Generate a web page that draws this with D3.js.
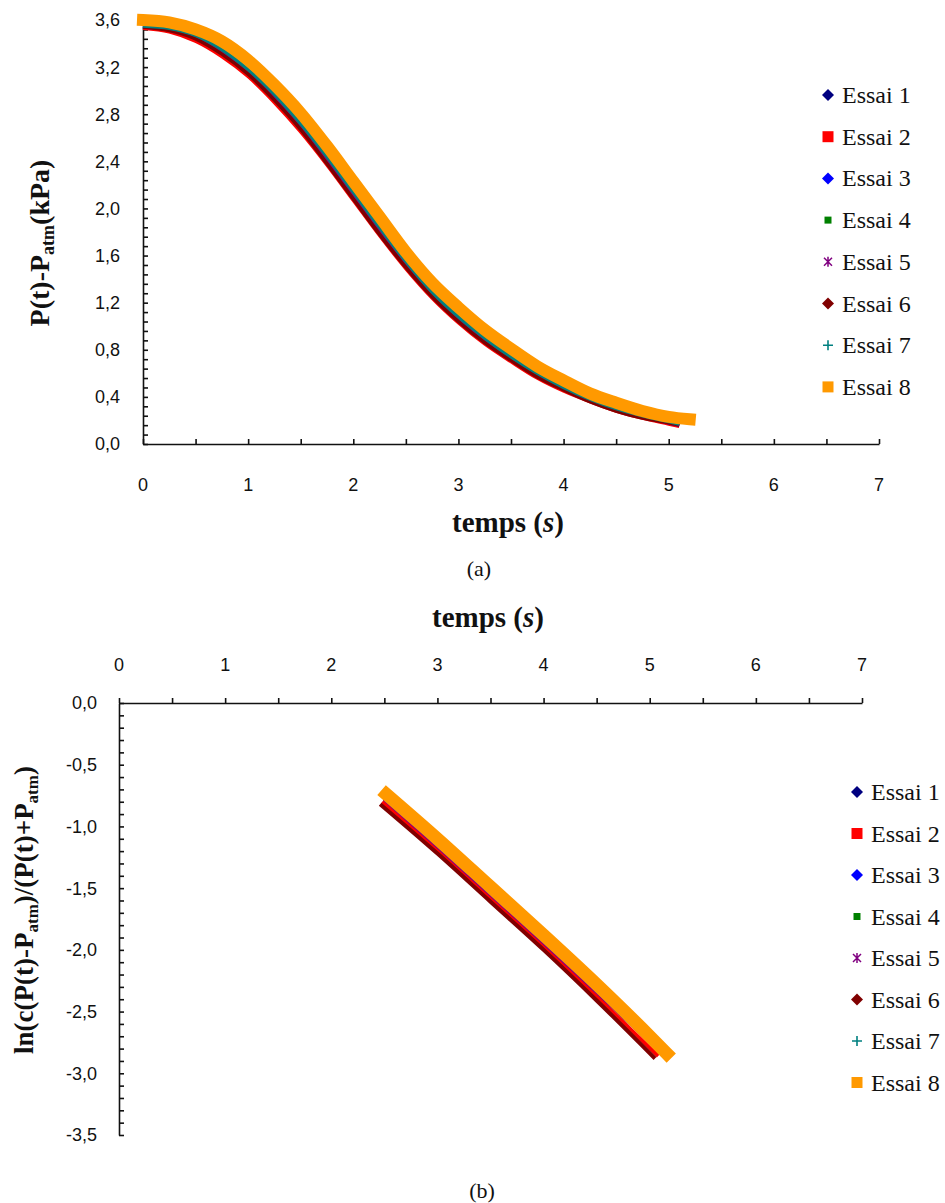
<!DOCTYPE html>
<html><head><meta charset="utf-8">
<script src="https://cdn.jsdelivr.net/npm/d3@7"></script>
<style>body{margin:0;background:#fff}</style>
</head><body><div id="c"></div>
<script>
// ---------------- DATA ----------------
const seriesNames = ["Essai 1","Essai 2","Essai 3","Essai 4","Essai 5","Essai 6","Essai 7","Essai 8"];
const seriesColors = ["#000080","#FF0000","#0000FF","#008000","#800080","#800000","#008080","#FF9900"];
const seriesMarkers = ["diamond","square","diamond","smallsquare","asterisk","diamond","plus","square"];

// (a) pressure vs time
const tTop = [0,0.25,0.5,0.75,1.0,1.25,1.5,1.75,2.0,2.25,2.5,2.75,3.0,3.25,3.5,3.75,4.0,4.25,4.5,4.75,5.0,5.1];
const tTop8 = [0,0.25,0.5,0.75,1.0,1.25,1.5,1.75,2.0,2.25,2.5,2.75,3.0,3.25,3.5,3.75,4.0,4.25,4.5,4.75,5.0,5.2];
const pEssai1 = [3.54,3.51,3.44,3.32,3.15,2.93,2.68,2.40,2.10,1.80,1.51,1.26,1.05,0.87,0.71,0.58,0.46,0.37,0.29,0.23,0.18,0.16];
const pEssai2 = [3.53,3.50,3.42,3.29,3.12,2.90,2.65,2.37,2.07,1.77,1.49,1.24,1.03,0.85,0.70,0.56,0.45,0.36,0.28,0.22,0.17,0.15];
const pEssai3 = [3.54,3.52,3.45,3.33,3.16,2.94,2.69,2.41,2.11,1.81,1.52,1.27,1.06,0.88,0.72,0.58,0.47,0.37,0.29,0.23,0.18,0.16];
const pEssai4 = [3.55,3.53,3.46,3.34,3.17,2.95,2.70,2.42,2.12,1.82,1.53,1.28,1.07,0.89,0.73,0.59,0.48,0.38,0.30,0.24,0.19,0.17];
const pEssai5 = [3.55,3.52,3.45,3.32,3.15,2.94,2.68,2.40,2.11,1.81,1.52,1.27,1.06,0.87,0.72,0.59,0.47,0.37,0.29,0.23,0.18,0.16];
const pEssai6 = [3.54,3.51,3.44,3.31,3.14,2.92,2.67,2.38,2.08,1.78,1.50,1.25,1.04,0.86,0.71,0.57,0.46,0.36,0.28,0.22,0.18,0.16];
const pEssai7 = [3.55,3.53,3.47,3.35,3.18,2.97,2.72,2.44,2.14,1.84,1.55,1.29,1.08,0.90,0.74,0.60,0.48,0.38,0.30,0.24,0.19,0.17];
const pEssai8 = [3.60,3.58,3.52,3.42,3.26,3.05,2.81,2.53,2.23,1.93,1.63,1.37,1.16,0.97,0.81,0.66,0.54,0.43,0.35,0.28,0.23,0.21];

// (b) log-transform vs time
const tBot = [2.5,3.0,3.5,4.0,4.5,5.1];
const tBot2 = [2.48,3.0,3.5,4.0,4.5,5.08];
const tBot6 = [2.46,3.0,3.5,4.0,4.5,5.05];
const tBot8 = [2.52,3.0,3.5,4.0,4.5,5.0,5.16];
const lEssai1 = [-0.78,-1.16,-1.55,-1.94,-2.34,-2.82];
const lEssai2 = [-0.80,-1.19,-1.58,-1.97,-2.38,-2.86];
const lEssai3 = [-0.77,-1.15,-1.54,-1.93,-2.33,-2.81];
const lEssai4 = [-0.76,-1.13,-1.51,-1.88,-2.27,-2.80];
const lEssai5 = [-0.78,-1.16,-1.55,-1.94,-2.34,-2.82];
const lEssai6 = [-0.82,-1.22,-1.61,-2.00,-2.41,-2.88];
const lEssai7 = [-0.76,-1.13,-1.51,-1.89,-2.28,-2.80];
const lEssai8 = [-0.74,-1.10,-1.49,-1.88,-2.28,-2.70,-2.84];

// axis ticks
const xTickLabels = [0,1,2,3,4,5,6,7];
const yTopTickLabels = [0,0.4,0.8,1.2,1.6,2.0,2.4,2.8,3.2,3.6];
const yBotTickLabels = [0,-0.5,-1.0,-1.5,-2.0,-2.5,-3.0,-3.5];

// ---------------- DRAW ----------------
const W = 945, H = 1203;
const serifFont = "'Liberation Serif', 'Times New Roman', serif";
const sansFont = "'Liberation Sans', Arial, sans-serif";
const svg = d3.select("#c").append("svg").attr("width", W).attr("height", H)
  .attr("font-family", serifFont);
svg.append("rect").attr("width", W).attr("height", H).attr("fill", "#fff");

const fmt = v => d3.format(".1f")(v).replace(".", ",").replace("−", "-");

function markerPath(type) {
  switch (type) {
    case "diamond": return "M0,-6L6,0L0,6L-6,0Z";
    case "square": return "M-5.5,-5.5H5.5V5.5H-5.5Z";
    case "smallsquare": return "M-3.5,-3.5H3.5V3.5H-3.5Z";
  }
  return null;
}
function drawMarker(g, type, color) {
  if (type === "asterisk") {
    g.append("path").attr("d", "M-4,-4L4,4M-4,4L4,-4M0,-5V5")
      .attr("stroke", color).attr("stroke-width", 1.5).attr("fill", "none");
  } else if (type === "plus") {
    g.append("path").attr("d", "M-5,0H5M0,-5V5")
      .attr("stroke", color).attr("stroke-width", 1.6).attr("fill", "none");
  } else {
    g.append("path").attr("d", markerPath(type)).attr("fill", color);
  }
}

function legend(x0, y0, dy) {
  const g = svg.append("g");
  seriesNames.forEach((name, i) => {
    const y = y0 + i * dy;
    const m = g.append("g").attr("transform", `translate(${x0},${y})`);
    drawMarker(m, seriesMarkers[i], seriesColors[i]);
    g.append("text").attr("x", x0 + 14).attr("y", y + 8)
      .attr("font-family", serifFont)
      .attr("font-size", 24).attr("fill", "#111").text(name);
  });
}

// ===== Chart (a) =====
const xTop = d3.scaleLinear().domain([0, 7]).range([143, 879]);
const yTop = d3.scaleLinear().domain([0, 3.6]).range([444, 20]);

svg.append("g").attr("transform", `translate(0,${yTop(0)})`)
  .call(d3.axisTop(xTop).tickValues(d3.range(0, 7.001, 0.5)).tickSize(5).tickSizeOuter(0).tickFormat(""))
  .call(g => g.selectAll("path,line").attr("stroke", "#111").attr("stroke-width", 1.6));
svg.append("g").attr("transform", `translate(${xTop(0)},0)`)
  .call(d3.axisRight(yTop).tickValues(d3.range(0, 3.6001, 0.08)).tickSize(5).tickSizeOuter(0).tickFormat(""))
  .call(g => g.selectAll("path,line").attr("stroke", "#111").attr("stroke-width", 1.6));

svg.append("g").selectAll("text").data(xTickLabels).join("text")
  .attr("x", d => xTop(d)).attr("y", 485).attr("dy", "0.36em")
  .attr("text-anchor", "middle").attr("font-family", sansFont).attr("font-size", 18).attr("fill", "#111")
  .text(d => d);
svg.append("g").selectAll("text").data(yTopTickLabels).join("text")
  .attr("x", 120).attr("y", d => yTop(d)).attr("dy", "0.36em")
  .attr("text-anchor", "end").attr("font-family", sansFont).attr("font-size", 18).attr("fill", "#111")
  .text(d => fmt(d));

const lineTop = d3.line().x(d => xTop(d[0])).y(d => yTop(d[1])).curve(d3.curveMonotoneX);
const topSeries = [pEssai1, pEssai2, pEssai3, pEssai4, pEssai5, pEssai6, pEssai7, pEssai8];
topSeries.forEach((vals, i) => {
  const ts = i === 7 ? tTop8 : tTop;
  svg.append("path").datum(ts.map((t, k) => [t, vals[k]]))
    .attr("d", lineTop).attr("fill", "none").attr("stroke", seriesColors[i])
    .attr("stroke-width", i === 7 ? 12 : 3.5).attr("stroke-linecap", i === 7 ? "square" : "butt")
    .attr("stroke-linejoin", "round");
});

// titles (a)
const tx1 = svg.append("text").attr("x", 508).attr("y", 532).attr("text-anchor", "middle")
  .attr("font-size", 29).attr("font-weight", "bold").attr("fill", "#111");
tx1.append("tspan").text("temps (");
tx1.append("tspan").attr("font-style", "italic").text("s");
tx1.append("tspan").text(")");

const ty1 = svg.append("text").attr("transform", "translate(49,243) rotate(-90)").attr("text-anchor", "middle")
  .attr("font-size", 28).attr("font-weight", "bold").attr("fill", "#111");
ty1.append("tspan").text("P(t)-P");
ty1.append("tspan").attr("font-size", 18).attr("dy", 5).text("atm");
ty1.append("tspan").attr("dy", -5).text("(kPa)");

svg.append("text").attr("x", 479).attr("y", 576).attr("text-anchor", "middle")
  .attr("font-size", 22).attr("fill", "#111").text("(a)");

legend(828, 95, 41.7);

// ===== Chart (b) =====
const xBot = d3.scaleLinear().domain([0, 7]).range([119, 862]);
const yBot = d3.scaleLinear().domain([-3.5, 0]).range([1135, 703]);

svg.append("g").attr("transform", `translate(0,${yBot(0)})`)
  .call(d3.axisTop(xBot).tickValues(d3.range(0, 7.001, 0.5)).tickSize(5).tickSizeOuter(0).tickFormat(""))
  .call(g => g.selectAll("path,line").attr("stroke", "#111").attr("stroke-width", 1.6));
svg.append("g").attr("transform", `translate(${xBot(0)},0)`)
  .call(d3.axisRight(yBot).tickValues(d3.range(0, 35.5, 1).map(v => -v / 10)).tickSize(5).tickSizeOuter(0).tickFormat(""))
  .call(g => g.selectAll("path,line").attr("stroke", "#111").attr("stroke-width", 1.6));

svg.append("g").selectAll("text").data(xTickLabels).join("text")
  .attr("x", d => xBot(d)).attr("y", 665).attr("dy", "0.36em")
  .attr("text-anchor", "middle").attr("font-family", sansFont).attr("font-size", 18).attr("fill", "#111")
  .text(d => d);
svg.append("g").selectAll("text").data(yBotTickLabels).join("text")
  .attr("x", 97).attr("y", d => yBot(d)).attr("dy", "0.36em")
  .attr("text-anchor", "end").attr("font-family", sansFont).attr("font-size", 18).attr("fill", "#111")
  .text(d => fmt(d));

const lineBot = d3.line().x(d => xBot(d[0])).y(d => yBot(d[1])).curve(d3.curveMonotoneX);
const botSeries = [lEssai1, lEssai2, lEssai3, lEssai4, lEssai5, lEssai6, lEssai7, lEssai8];
const botTimes = [tBot, tBot2, tBot, tBot, tBot, tBot6, tBot, tBot8];
botSeries.forEach((vals, i) => {
  const ts = botTimes[i];
  svg.append("path").datum(ts.map((t, k) => [t, vals[k]]))
    .attr("d", lineBot).attr("fill", "none").attr("stroke", seriesColors[i])
    .attr("stroke-width", i === 7 ? 13 : 4).attr("stroke-linecap", i === 7 ? "square" : "butt")
    .attr("stroke-linejoin", "round");
});

const tx2 = svg.append("text").attr("x", 488).attr("y", 627).attr("text-anchor", "middle")
  .attr("font-size", 29).attr("font-weight", "bold").attr("fill", "#111");
tx2.append("tspan").text("temps (");
tx2.append("tspan").attr("font-style", "italic").text("s");
tx2.append("tspan").text(")");

const ty2 = svg.append("text").attr("transform", "translate(33,910) rotate(-90)").attr("text-anchor", "middle")
  .attr("font-size", 27).attr("font-weight", "bold").attr("fill", "#111");
ty2.append("tspan").text("ln(c(P(t)-P");
ty2.append("tspan").attr("font-size", 17).attr("dy", 5).text("atm");
ty2.append("tspan").attr("dy", -5).text(")/(P(t)+P");
ty2.append("tspan").attr("font-size", 17).attr("dy", 5).text("atm");
ty2.append("tspan").attr("dy", -5).text(")");

svg.append("text").attr("x", 482).attr("y", 1198).attr("text-anchor", "middle")
  .attr("font-size", 22).attr("fill", "#111").text("(b)");

legend(857, 792, 41.5);
</script></body></html>
